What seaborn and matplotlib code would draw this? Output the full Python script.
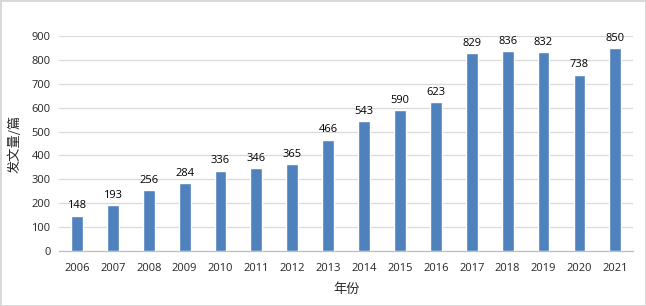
import numpy as np
import pandas as pd
import seaborn as sns
import matplotlib.pyplot as plt

sns.set_style("white")
plt.rcParams['font.family'] = ['Open Sans', 'Noto Sans CJK SC', 'DejaVu Sans']

years = ['2006', '2007', '2008', '2009', '2010', '2011', '2012', '2013',
         '2014', '2015', '2016', '2017', '2018', '2019', '2020', '2021']
counts = [148, 193, 256, 284, 336, 346, 365, 466,
          543, 590, 623, 829, 836, 832, 738, 850]
y_ticks = [0, 100, 200, 300, 400, 500, 600, 700, 800, 900]

df = pd.DataFrame({'year': years, 'count': counts})

fig = plt.figure(figsize=(6.46, 3.06), dpi=100)
fig.patch.set_edgecolor('#d9d9d9')
fig.patch.set_linewidth(2)
ax = fig.add_axes([0.0913, 0.180, 0.889, 0.702])

sns.barplot(data=df, x='year', y='count', color='#4f81bd', saturation=1,
            width=0.33, ax=ax, zorder=3)

ax.set_ylim(0, 900)
ax.set_xlim(-0.5, len(years) - 0.5)
ax.set_yticks(y_ticks)
ax.yaxis.grid(True, color='#d9d9d9', linewidth=0.9, zorder=0)
ax.set_axisbelow(True)

for s in ['top', 'right', 'left']:
    ax.spines[s].set_visible(False)
ax.spines['bottom'].set_color('#bfbfbf')
ax.spines['bottom'].set_linewidth(0.9)

# excel-style tick marks between categories
ax.set_xticks(np.arange(-0.5, len(years), 1.0), minor=True)
ax.tick_params(axis='x', which='minor', length=4, color='#bfbfbf', width=0.9, direction='out')
ax.tick_params(axis='x', which='major', length=0, pad=9, labelsize=8)
ax.tick_params(axis='y', length=0, pad=6, labelsize=8)

for i, v in enumerate(counts):
    ax.text(i, v + 18, str(v), ha='center', va='bottom', fontsize=8, color='black')

ax.set_xlabel('年份', fontsize=9.5, labelpad=6, family=['Noto Sans CJK SC'])
ax.set_ylabel('发文量/篇', fontsize=9.5, labelpad=7, family=['Noto Sans CJK SC'])

fig.savefig('out.png', dpi=100, edgecolor=fig.get_edgecolor())
